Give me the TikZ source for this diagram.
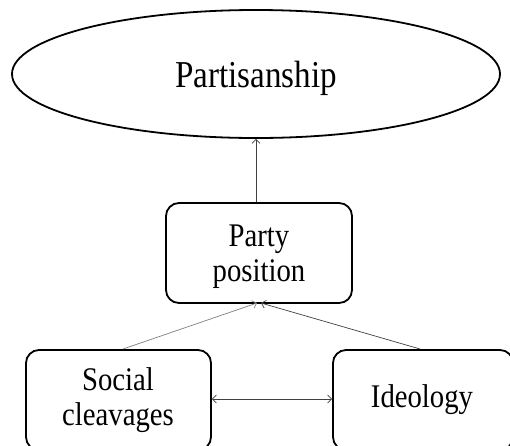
\documentclass[tikz,border=0pt]{standalone}
\usepackage{fontspec}
\setmainfont{Liberation Serif}
\newfontfamily\narrowserif[FakeStretch=0.87]{Liberation Serif}
\usetikzlibrary{shapes.geometric,arrows.meta}
\begin{document}
\begin{tikzpicture}[x=1pt,y=-1pt,
  boxnode/.style={draw,line width=1.8pt,rounded corners=13pt,align=center,font=\narrowserif\fontsize{33}{35}\selectfont,inner sep=0pt},
  link/.style={line width=0.7pt,draw=black!75,-{Straight Barb[length=4pt,width=8pt]}}]
\clip (0,0) rectangle (510,445);
\fill[white] (0,0) rectangle (510,445);
\node[draw,ellipse,line width=1.8pt,minimum width=488pt,minimum height=128pt,inner sep=0pt,font=\narrowserif\fontsize{38}{42}\selectfont] (part) at (256,74) {};
\node (ptxt) at (256,78) {\narrowserif\fontsize{38}{42}\selectfont Partisanship};
\node[boxnode,minimum width=186pt,minimum height=100pt] (pp) at (259,253) {};
\node[align=center,font=\narrowserif\fontsize{33}{35}\selectfont,inner sep=0pt] (pptxt) at (259,257) {Party\\position};
\node[boxnode,minimum width=185pt,minimum height=100pt] (sc) at (118.5,400) {};
\node[align=center,font=\narrowserif\fontsize{33}{35}\selectfont,inner sep=0pt] (sctxt) at (118,400) {Social\\cleavages};
\node[boxnode,minimum width=180pt,minimum height=100pt] (id) at (423,400) {};
\node[font=\narrowserif\fontsize{33}{35}\selectfont,inner sep=0pt] (idtxt) at (422,400) {Ideology};
\draw[link] (pp.north -| part.south) -- (part.south);
\draw[link,draw=black!50] (123,349) coordinate (a) -- (257,303) coordinate (b);
\draw[link] (420,349) coordinate (c) -- (261,303) coordinate (d);
\draw[link,{Straight Barb[length=4pt,width=8pt]}-{Straight Barb[length=4pt,width=8pt]}] (sc.east |- 0,399) -- (id.west |- 0,399);
\end{tikzpicture}
\end{document}
